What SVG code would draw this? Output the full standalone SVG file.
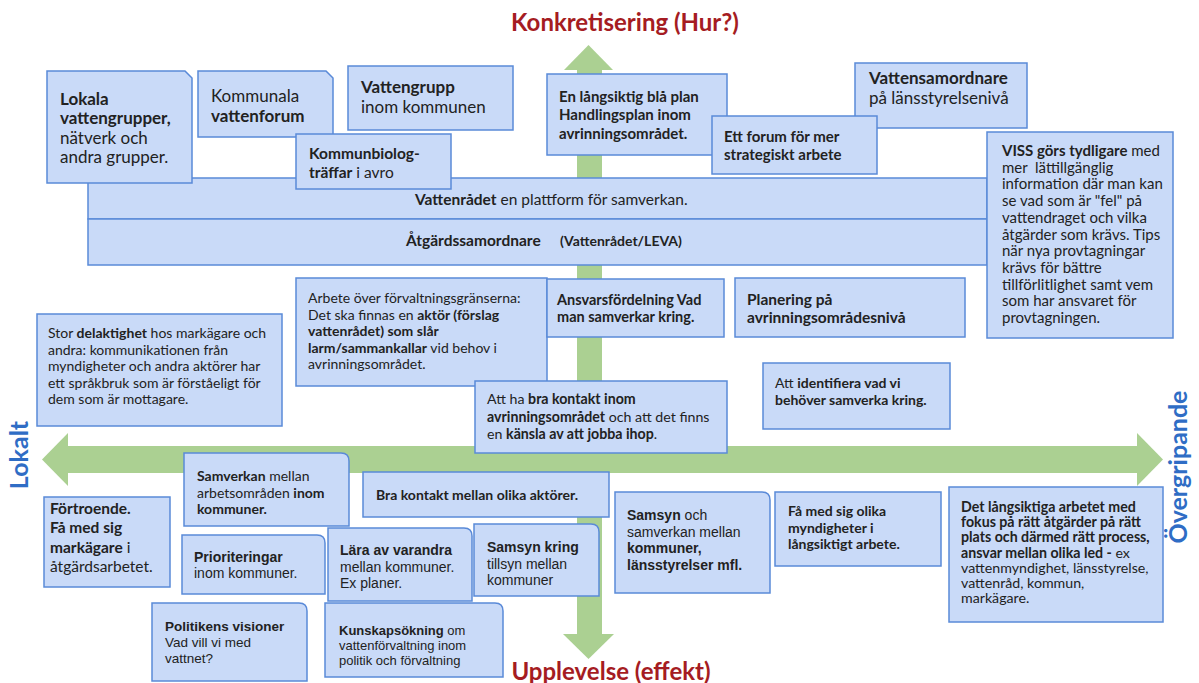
<svg xmlns="http://www.w3.org/2000/svg" width="1199" height="683" viewBox="0 0 1199 683">
<style>
.box{fill:#c9daf8;stroke:#5a8ad8;stroke-width:1.5}
.arrow{fill:#abd092}
.l{font-family:Lato,"Liberation Sans",sans-serif;fill:#222}
.a{font-family:"Liberation Sans",Arial,sans-serif;fill:#222}
.b{font-weight:700}
.title{font-family:Lato,"Liberation Sans",sans-serif;font-weight:700;font-size:24px;fill:#a51c22;text-anchor:middle}
.axis{font-family:Lato,"Liberation Sans",sans-serif;font-weight:700;font-size:25px;fill:#2f6dc5;text-anchor:middle}
</style>
<rect width="1199" height="683" fill="#ffffff"/>
<g id="connectors">
  <rect class="arrow" x="577" y="69" width="25" height="566"/>
  <polygon class="arrow" points="564,70 588.5,45 613,70"/>
  <polygon class="arrow" points="563,634 588.5,659 614,634"/>
  <rect class="arrow" x="67" y="446" width="1071" height="27"/>
  <polygon class="arrow" points="68,433 42,459.5 68,486"/>
  <polygon class="arrow" points="1137,433 1163,459.5 1137,486"/>
</g>
<g id="labels">
  <text class="title" x="625" y="31">Konkretisering (Hur?)</text>
  <text class="title" x="611" y="680" font-size="25">Upplevelse (effekt)</text>
  <text class="axis" transform="translate(28,455) rotate(-90)">Lokalt</text>
  <text class="axis" transform="translate(1187,467) rotate(-90)">Övergripande</text>
</g>
<g id="band-vattenradet">
  <rect class="box" x="88" y="178" width="899" height="41"/>
  <text class="l" x="415" y="205" font-size="15.5"><tspan class="b">Vattenrådet</tspan> en plattform för samverkan.</text>
</g>
<g id="band-atgard">
  <rect class="box" x="88" y="219" width="899" height="46"/>
  <text class="l b" x="406" y="246" font-size="15.5">Åtgärdssamordnare</text>
  <text class="l b" x="560" y="246" font-size="14">(Vattenrådet/LEVA)</text>
</g>
<g id="lokala">
  <path class="box" d="M47 71 H185 L192 78 V183 H47 Z"/>
  <text class="l" x="60" font-size="17"><tspan class="b" x="60" y="105">Lokala</tspan><tspan class="b" x="60" y="124">vattengrupper,</tspan><tspan x="60" y="143.5">nätverk och</tspan><tspan x="60" y="163">andra grupper.</tspan></text>
</g>
<g id="kommunala">
  <path class="box" d="M198 71 H326 L333 78 V137 H198 Z"/>
  <text class="l" font-size="17"><tspan x="211" y="102">Kommunala</tspan><tspan class="b" x="211" y="122">vattenforum</tspan></text>
</g>
<g id="vattengrupp">
  <rect class="box" x="348" y="66" width="165" height="64"/>
  <text class="l" font-size="17"><tspan class="b" x="361" y="93">Vattengrupp</tspan><tspan x="361" y="113">inom kommunen</tspan></text>
</g>
<g id="kommunbiolog">
  <rect class="box" x="296" y="134" width="155" height="55"/>
  <text class="l" font-size="15.5"><tspan class="b" x="309" y="159">Kommunbiolog-</tspan><tspan x="309" y="178"><tspan class="b">träffar</tspan> i avro</tspan></text>
</g>
<g id="langsiktig">
  <rect class="box" x="547" y="74" width="180" height="81"/>
  <text class="l b" font-size="15"><tspan x="559" y="102">En långsiktig blå plan</tspan><tspan x="559" y="120">Handlingsplan inom</tspan><tspan x="559" y="139">avrinningsområdet.</tspan></text>
</g>
<g id="vattensamordnare">
  <rect class="box" x="855" y="63" width="172" height="65"/>
  <text class="l" font-size="17"><tspan class="b" x="869" y="84">Vattensamordnare</tspan><tspan x="869" y="104">på länsstyrelsenivå</tspan></text>
</g>
<g id="forum">
  <rect class="box" x="712" y="116" width="165" height="58"/>
  <text class="l b" font-size="15"><tspan x="724" y="142">Ett forum för mer</tspan><tspan x="724" y="160">strategiskt arbete</tspan></text>
</g>
<g id="viss">
  <rect class="box" x="987" y="132" width="186" height="206"/>
  <text class="l" font-size="15"><tspan x="1002" y="156"><tspan class="b">VISS görs tydligare</tspan> med</tspan><tspan x="1002" y="172.7" xml:space="preserve">mer  lättillgänglig</tspan><tspan x="1002" y="189.4">information där man kan</tspan><tspan x="1002" y="206.1">se vad som är "fel" på</tspan><tspan x="1002" y="222.8">vattendraget och vilka</tspan><tspan x="1002" y="239.5">åtgärder som krävs. Tips</tspan><tspan x="1002" y="256.2">när nya provtagningar</tspan><tspan x="1002" y="272.9">krävs för bättre</tspan><tspan x="1002" y="289.6">tillförlitlighet samt vem</tspan><tspan x="1002" y="306.3">som har ansvaret för</tspan><tspan x="1002" y="323">provtagningen.</tspan></text>
</g>
<g id="stor">
  <rect class="box" x="37" y="314" width="245" height="112"/>
  <text class="l" font-size="14"><tspan x="48" y="338">Stor <tspan class="b">delaktighet</tspan> hos markägare och</tspan><tspan x="48" y="354.5">andra: kommunikationen från</tspan><tspan x="48" y="371">myndigheter och andra aktörer har</tspan><tspan x="48" y="387.5">ett språkbruk som är förståeligt för</tspan><tspan x="48" y="404">dem som är mottagare.</tspan></text>
</g>
<g id="arbete">
  <rect class="box" x="296" y="278" width="251" height="108"/>
  <text class="l" font-size="14"><tspan x="308" y="303">Arbete över förvaltningsgränserna:</tspan><tspan x="308" y="319.5">Det ska finnas en <tspan class="b">aktör (förslag</tspan></tspan><tspan class="b" x="308" y="336">vattenrådet) som slår</tspan><tspan x="308" y="352.5"><tspan class="b">larm/sammankallar</tspan> vid behov i</tspan><tspan x="308" y="369">avrinningsområdet.</tspan></text>
</g>
<g id="ansvar">
  <rect class="box" x="547" y="279" width="177" height="58"/>
  <text class="l b" font-size="14.5"><tspan x="557" y="305">Ansvarsfördelning Vad</tspan><tspan x="557" y="322">man samverkar kring.</tspan></text>
</g>
<g id="planering">
  <rect class="box" x="735" y="278" width="230" height="59"/>
  <text class="l b" font-size="15.5"><tspan x="747" y="305">Planering på</tspan><tspan x="747" y="323">avrinningsområdesnivå</tspan></text>
</g>
<g id="attha">
  <rect class="box" x="475" y="381" width="252" height="72"/>
  <text class="l" font-size="14.2"><tspan x="487" y="404">Att ha <tspan class="b">bra kontakt inom</tspan></tspan><tspan x="487" y="421.5"><tspan class="b">avrinningsområdet</tspan> och att det finns</tspan><tspan x="487" y="439">en <tspan class="b">känsla av att jobba ihop</tspan>.</tspan></text>
</g>
<g id="identifiera">
  <rect class="box" x="763" y="363" width="187" height="66"/>
  <text class="l" font-size="14"><tspan x="775" y="388">Att <tspan class="b">identifiera vad vi</tspan></tspan><tspan class="b" x="775" y="405">behöver samverka kring.</tspan></text>
</g>
<g id="fortroende">
  <rect class="box" x="44" y="497" width="126" height="90"/>
  <text class="l" font-size="15.5"><tspan class="b" x="50" y="514">Förtroende.</tspan><tspan class="b" x="50" y="533">Få med sig</tspan><tspan x="50" y="552.5"><tspan class="b">markägare</tspan> i</tspan><tspan x="50" y="572">åtgärdsarbetet.</tspan></text>
</g>
<g id="samverkan">
  <path class="box" d="M184 453 H341 Q349 453 349 461 V526 H184 Z"/>
  <text class="l" font-size="14"><tspan x="197" y="481"><tspan class="b">Samverkan</tspan> mellan</tspan><tspan x="197" y="497.5">arbetsområden <tspan class="b">inom</tspan></tspan><tspan class="b" x="197" y="514">kommuner.</tspan></text>
</g>
<g id="brakontakt">
  <rect class="box" x="363" y="472" width="246" height="45"/>
  <text class="l b" x="376" y="500" font-size="14">Bra kontakt mellan olika aktörer.</text>
</g>
<g id="prioriteringar">
  <path class="box" d="M182 535 H317 Q325 535 325 543 V594 H182 Z"/>
  <text class="a" font-size="14"><tspan class="b" x="194" y="562">Prioriteringar</tspan><tspan x="194" y="578">inom kommuner.</tspan></text>
</g>
<g id="lara">
  <path class="box" d="M328 528 H464 Q472 528 472 536 V601 H328 Z"/>
  <text class="a" font-size="14"><tspan class="b" x="340" y="555">Lära av varandra</tspan><tspan x="340" y="571.5">mellan kommuner.</tspan><tspan x="340" y="588">Ex planer.</tspan></text>
</g>
<g id="samsynkring">
  <path class="box" d="M474 524 H591 Q599 524 599 532 V596 H474 Z"/>
  <text class="a" font-size="14"><tspan class="b" x="487" y="552">Samsyn kring</tspan><tspan x="487" y="568.5">tillsyn mellan</tspan><tspan x="487" y="585">kommuner</tspan></text>
</g>
<g id="politikens">
  <path class="box" d="M152 603 H299 Q307 603 307 611 V681 H152 Z"/>
  <text class="a" font-size="13.5"><tspan class="b" x="165" y="631">Politikens visioner</tspan><tspan x="165" y="647">Vad vill vi med</tspan><tspan x="165" y="663">vattnet?</tspan></text>
</g>
<g id="kunskap">
  <path class="box" d="M325 603 H495 Q503 603 503 611 V677 H325 Z"/>
  <text class="a" font-size="13"><tspan x="339" y="635"><tspan class="b">Kunskapsökning</tspan> om</tspan><tspan x="339" y="650">vattenförvaltning inom</tspan><tspan x="339" y="665">politik och förvaltning</tspan></text>
</g>
<g id="samsynoch">
  <path class="box" d="M615 492 H762 Q770 492 770 500 V593 H615 Z"/>
  <text class="a" font-size="14"><tspan x="627" y="520"><tspan class="b">Samsyn</tspan> och</tspan><tspan x="627" y="536.5">samverkan mellan</tspan><tspan class="b" x="627" y="553">kommuner,</tspan><tspan class="b" x="627" y="569.5">länsstyrelser mfl.</tspan></text>
</g>
<g id="famed">
  <rect class="box" x="775" y="492" width="166" height="74"/>
  <text class="l b" font-size="14"><tspan x="788" y="516">Få med sig olika</tspan><tspan x="788" y="532.5">myndigheter i</tspan><tspan x="788" y="549">långsiktigt arbete.</tspan></text>
</g>
<g id="detlang">
  <rect class="box" x="949" y="487" width="214" height="135"/>
  <text class="l" font-size="14.2"><tspan class="b" x="961" y="512">Det långsiktiga arbetet med</tspan><tspan class="b" x="961" y="527.2">fokus på rätt åtgärder på rätt</tspan><tspan class="b" x="961" y="542.4">plats och därmed rätt process,</tspan><tspan x="961" y="557.6"><tspan class="b">ansvar mellan olika led -</tspan> ex</tspan><tspan x="961" y="572.8">vattenmyndighet, länsstyrelse,</tspan><tspan x="961" y="588">vattenråd, kommun,</tspan><tspan x="961" y="603.2">markägare.</tspan></text>
</g>
</svg>
